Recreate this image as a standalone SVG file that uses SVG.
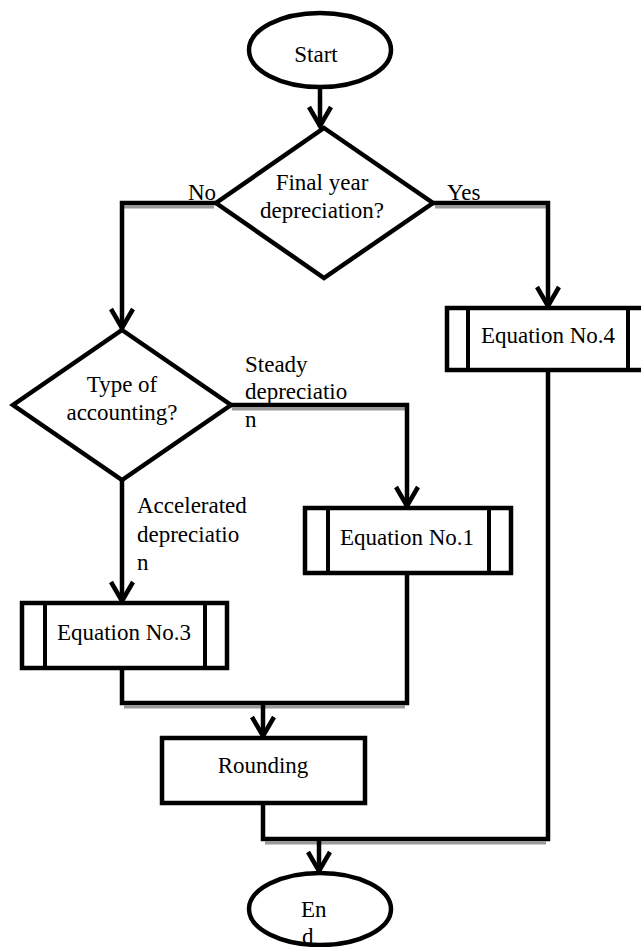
<svg xmlns="http://www.w3.org/2000/svg" width="641" height="947" viewBox="0 0 641 947">
<defs>
<style>
.shape{fill:#fff;stroke:#000;stroke-width:4.5}
.bar{stroke:#000;stroke-width:4}
.conn{fill:none;stroke:#000;stroke-width:4.5}
.shadow{fill:none;stroke:#9a9a9a;stroke-width:3}
.t{font-family:'Liberation Serif','DejaVu Serif',serif;font-size:23px;fill:#000}
.c{text-anchor:middle}
</style>
<marker id="arr" viewBox="-24 -14 28 28" refX="0" refY="0" markerWidth="28" markerHeight="28" markerUnits="userSpaceOnUse" orient="auto">
<path d="M-20,-11 L-1,0 L-20,11" fill="none" stroke="#000" stroke-width="4.5"/>
</marker>
</defs>
<rect width="641" height="947" fill="#fff"/>
<g id="connectors">
<path class="shadow" d="M122,207 H214 M435,207 H546 M232,409 H405 M124,707 H405 M265,843 H546"/>
<path class="conn" d="M320,88 V127" marker-end="url(#arr)"/>
<path class="conn" d="M216,203 H122 V329" marker-end="url(#arr)"/>
<path class="conn" d="M433,203 H548 V307" marker-end="url(#arr)"/>
<path class="conn" d="M231,405 H407 V507" marker-end="url(#arr)"/>
<path class="conn" d="M122,480 V602" marker-end="url(#arr)"/>
<path class="conn" d="M407,573 V703 H122 V668"/>
<path class="conn" d="M263,703 V737" marker-end="url(#arr)"/>
<path class="conn" d="M263,803 V839 H548 V370"/>
<path class="conn" d="M319,839 V872" marker-end="url(#arr)"/>
<text class="t" x="188" y="200" font-family="Liberation Serif, DejaVu Serif, serif">No</text>
<text class="t" x="447" y="200" font-family="Liberation Serif, DejaVu Serif, serif">Yes</text>
<text class="t" x="245" y="372" font-family="Liberation Serif, DejaVu Serif, serif">Steady</text>
<text class="t" x="245" y="399" font-family="Liberation Serif, DejaVu Serif, serif">depreciatio</text>
<text class="t" x="245" y="427" font-family="Liberation Serif, DejaVu Serif, serif">n</text>
<text class="t" x="137" y="513" font-family="Liberation Serif, DejaVu Serif, serif">Accelerated</text>
<text class="t" x="137" y="542" font-family="Liberation Serif, DejaVu Serif, serif">depreciatio</text>
<text class="t" x="137" y="570" font-family="Liberation Serif, DejaVu Serif, serif">n</text>
</g>
<g id="start">
<ellipse class="shape" cx="320" cy="50" rx="71" ry="37"/>
<text class="t c" x="316" y="62" font-family="Liberation Serif, DejaVu Serif, serif">Start</text>
</g>
<g id="final-year">
<polygon class="shape" points="324,128 433,203 324,278 216,203"/>
<text class="t c" x="322" y="190" font-family="Liberation Serif, DejaVu Serif, serif">Final year</text>
<text class="t c" x="322" y="218" font-family="Liberation Serif, DejaVu Serif, serif">depreciation?</text>
</g>
<g id="type-accounting">
<polygon class="shape" points="122,330 231,405 122,480 13,405"/>
<text class="t c" x="122" y="392" font-family="Liberation Serif, DejaVu Serif, serif">Type of</text>
<text class="t c" x="122" y="420" font-family="Liberation Serif, DejaVu Serif, serif">accounting?</text>
</g>
<g id="eq4">
<rect class="shape" x="447" y="308" width="202" height="62"/>
<line class="bar" x1="468" y1="308" x2="468" y2="370"/>
<line class="bar" x1="628" y1="308" x2="628" y2="370"/>
<text class="t c" x="548" y="343" font-family="Liberation Serif, DejaVu Serif, serif">Equation No.4</text>
</g>
<g id="eq1">
<rect class="shape" x="305" y="508" width="206" height="65"/>
<line class="bar" x1="328" y1="508" x2="328" y2="573"/>
<line class="bar" x1="489" y1="508" x2="489" y2="573"/>
<text class="t c" x="407" y="545" font-family="Liberation Serif, DejaVu Serif, serif">Equation No.1</text>
</g>
<g id="eq3">
<rect class="shape" x="22" y="603" width="205" height="65"/>
<line class="bar" x1="45" y1="603" x2="45" y2="668"/>
<line class="bar" x1="205" y1="603" x2="205" y2="668"/>
<text class="t c" x="124" y="640" font-family="Liberation Serif, DejaVu Serif, serif">Equation No.3</text>
</g>
<g id="rounding">
<rect class="shape" x="162" y="738" width="203" height="65"/>
<text class="t c" x="263" y="773" font-family="Liberation Serif, DejaVu Serif, serif">Rounding</text>
</g>
<g id="end">
<ellipse class="shape" cx="320" cy="909" rx="71" ry="36"/>
<text class="t" x="301" y="917" font-family="Liberation Serif, DejaVu Serif, serif">En</text>
<text class="t" x="302" y="944" font-family="Liberation Serif, DejaVu Serif, serif">d</text>
</g>
</svg>
